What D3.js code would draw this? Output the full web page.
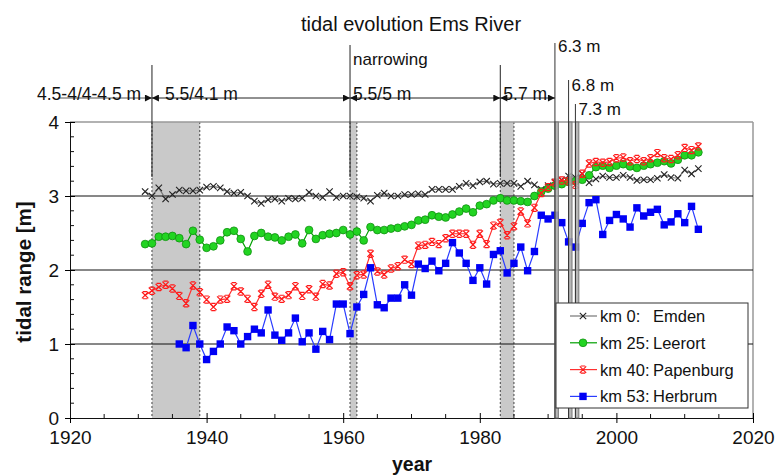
<!DOCTYPE html>
<html>
<head>
<meta charset="utf-8">
<script src="https://cdn.jsdelivr.net/npm/d3@7"></script>
<style>
  body { margin: 0; background: #fff; }
  text { font-family: "Liberation Sans", Arial, Helvetica, sans-serif; fill: #111; }
</style>
</head>
<body>
<div id="chart"></div>
<script>
// data (tidal range in m per year)
const yearsA = d3.range(1931, 2013);   // Emden, Leerort, Papenburg
const yearsB = d3.range(1936, 2013);   // Herbrum

const emden = [3.06,3.00,3.11,2.96,3.02,3.08,3.07,3.07,3.08,3.12,3.13,3.11,3.06,3.04,3.05,3.00,2.93,2.90,2.95,2.96,
  2.93,2.97,2.96,2.97,3.05,3.00,2.98,3.06,2.98,3.00,3.00,2.99,2.97,2.93,3.01,3.04,3.00,3.00,3.02,3.02,
  3.03,3.02,3.09,3.09,3.09,3.09,3.13,3.17,3.14,3.19,3.20,3.16,3.17,3.17,3.17,3.13,3.20,3.15,3.09,3.14,
  3.19,3.22,3.27,3.25,3.30,3.18,3.23,3.27,3.25,3.25,3.28,3.25,3.21,3.22,3.22,3.24,3.29,3.25,3.24,3.35,
  3.30,3.37];
const leerort = [2.35,2.36,2.45,2.45,2.46,2.43,2.35,2.53,2.41,2.30,2.32,2.40,2.51,2.53,2.42,2.25,2.46,2.50,2.45,2.44,
  2.40,2.45,2.48,2.36,2.54,2.42,2.47,2.49,2.50,2.54,2.48,2.52,2.40,2.58,2.54,2.54,2.56,2.57,2.59,2.61,
  2.67,2.68,2.74,2.72,2.71,2.75,2.79,2.83,2.78,2.87,2.89,2.94,2.97,2.94,2.94,2.93,2.92,3.00,3.06,3.10,
  3.14,3.16,3.19,3.20,3.22,3.28,3.39,3.41,3.38,3.41,3.43,3.40,3.38,3.41,3.43,3.45,3.47,3.44,3.49,3.55,
  3.55,3.59];
const papenburg = [1.66,1.72,1.77,1.80,1.75,1.65,1.55,1.79,1.70,1.60,1.50,1.60,1.61,1.78,1.71,1.61,1.50,1.68,1.80,1.64,
  1.61,1.66,1.78,1.65,1.74,1.64,1.81,1.79,1.95,1.97,1.78,1.93,1.94,2.22,1.98,1.94,2.02,2.05,2.14,2.08,
  2.33,2.34,2.38,2.35,2.43,2.49,2.49,2.49,2.34,2.49,2.35,2.60,2.64,2.47,2.59,2.79,2.63,2.84,3.04,3.12,
  3.18,3.21,3.20,3.15,3.30,3.44,3.46,3.45,3.46,3.51,3.52,3.47,3.50,3.47,3.51,3.58,3.51,3.50,3.55,3.65,
  3.62,3.67];
const herbrum = [1.00,0.95,1.25,1.00,0.79,0.90,1.00,1.23,1.18,1.00,1.10,1.20,1.15,1.46,1.12,1.05,1.15,1.35,1.03,1.15,
  0.93,1.17,1.06,1.54,1.54,1.14,1.50,1.67,2.03,1.53,1.49,1.62,1.62,1.80,1.66,2.08,2.02,2.12,1.99,2.09,
  2.37,2.23,2.09,1.86,2.03,1.81,2.21,2.26,1.96,2.09,2.31,1.99,2.25,2.74,2.69,2.74,2.64,2.38,2.31,2.63,
  2.91,2.95,2.48,2.67,2.75,2.69,2.58,2.84,2.73,2.78,2.82,2.61,2.65,2.76,2.64,2.86,2.55];

// shaded construction periods
const periods = [[1932, 1939], [1961, 1962], [1983, 1985]];
// narrow deepening events
const events = [1991, 1993, 1994];
const eventLabels = ["6.3 m", "6.8 m", "7.3 m"];
// channel depth phases (arrows)
const phaseBreaks = [1932, 1961, 1983, 1991];
const phaseLabels = ["5.5/4.1 m", "5.5/5 m", "5.7 m"];

const xTicks = [1920, 1940, 1960, 1980, 2000, 2020];
const yTicks = [0, 1, 2, 3, 4];

const W = 776, H = 476;
const svg = d3.select("#chart").append("svg").attr("width", W).attr("height", H);

const x = d3.scaleLinear().domain([1920, 2020]).range([70, 753]);
const y = d3.scaleLinear().domain([0, 4]).range([418, 122]);

const defs = svg.append("defs");
defs.append("marker").attr("id", "ah").attr("viewBox", "0 0 10 10")
  .attr("refX", 10).attr("refY", 5).attr("markerWidth", 9).attr("markerHeight", 7)
  .attr("markerUnits", "userSpaceOnUse").attr("orient", "auto-start-reverse")
  .append("path").attr("d", "M0,0L10,5L0,10Z").attr("fill", "#111");

// shaded periods
periods.forEach(p => {
  svg.append("rect").attr("x", x(p[0])).attr("y", y(4))
    .attr("width", x(p[1]) - x(p[0])).attr("height", y(0) - y(4)).attr("fill", "#c9c9c9");
  p.forEach(v => svg.append("line").attr("x1", x(v)).attr("x2", x(v)).attr("y1", y(4)).attr("y2", y(0))
    .attr("stroke", "#444").attr("stroke-dasharray", "2,2"));
});

// frame and grid
svg.append("line").attr("x1", x(1920)).attr("x2", x(2020)).attr("y1", y(4)).attr("y2", y(4))
  .attr("stroke", "#999").attr("stroke-width", 1.5);
svg.append("line").attr("x1", x(2020)).attr("x2", x(2020)).attr("y1", y(4)).attr("y2", y(0))
  .attr("stroke", "#999").attr("stroke-width", 1.5);
[1, 2, 3].forEach(v => svg.append("line").attr("x1", x(1920)).attr("x2", x(2020))
  .attr("y1", y(v)).attr("y2", y(v)).attr("stroke", "#111"));

// axes
const xAxis = svg.append("g").attr("transform", `translate(0,${y(0)})`)
  .call(d3.axisBottom(x).tickValues(xTicks).tickFormat(d3.format("d")).tickSize(5).tickPadding(8));
xAxis.selectAll(".tick line").attr("y1", -5);
xAxis.append("g").selectAll("line").data(d3.range(1925, 2020, 5).filter(d => d % 20))
  .join("line").attr("x1", d => x(d)).attr("x2", d => x(d)).attr("y1", 0).attr("y2", -4).attr("stroke", "#111");
const yAxis = svg.append("g").attr("transform", `translate(${x(1920)},0)`)
  .call(d3.axisLeft(y).tickValues(yTicks).tickFormat(d3.format("d")).tickSize(5).tickPadding(6));
yAxis.selectAll(".tick line").attr("x1", 5);
yAxis.append("g").selectAll("line").data(d3.range(0.2, 4, 0.2).filter(d => Math.abs(d - Math.round(d)) > 0.05))
  .join("line").attr("x1", 0).attr("x2", 4).attr("y1", d => y(d)).attr("y2", d => y(d)).attr("stroke", "#111");
[xAxis, yAxis].forEach(g => {
  g.select(".domain").attr("stroke", "#111");
  g.selectAll(".tick text").attr("font-size", 19).attr("font-family", "Liberation Sans, Arial, sans-serif").attr("fill", "#111");
});

// series
const crossPath = "M-3.2,-3.2L3.2,3.2M-3.2,3.2L3.2,-3.2";
const starPath = "M-3.2,-3.2L3.2,3.2M-3.2,3.2L3.2,-3.2M-2.2,-3.6H2.2M-2.2,3.6H2.2";
const series = [
  {name: "Emden", pre: "km 0:", years: yearsA, vals: emden, line: "#777", mark: "cross"},
  {name: "Leerort", pre: "km 25:", years: yearsA, vals: leerort, line: "#00a000", mark: "circle"},
  {name: "Papenburg", pre: "km 40:", years: yearsA, vals: papenburg, line: "#ff3030", mark: "star"},
  {name: "Herbrum", pre: "km 53:", years: yearsB, vals: herbrum, line: "#2a3cff", mark: "square"}
];

function drawMarker(g, s) {
  if (s.mark === "cross") g.append("path").attr("d", crossPath).attr("stroke", "#222").attr("stroke-width", 1.1).attr("fill", "none");
  if (s.mark === "star") g.append("path").attr("d", starPath).attr("stroke", "#ff1a1a").attr("stroke-width", 1.2).attr("fill", "none");
  if (s.mark === "circle") g.append("circle").attr("r", 3.9).attr("fill", "#22d422").attr("stroke", "#109010").attr("stroke-width", 0.8);
  if (s.mark === "square") g.append("rect").attr("x", -3.7).attr("y", -3.7).attr("width", 7.4).attr("height", 7.4).attr("fill", "#0000f5");
}

const line = d3.line().x(d => x(d[0])).y(d => y(d[1]));
series.forEach(s => {
  const pts = s.years.map((yr, i) => [yr, s.vals[i]]);
  svg.append("path").datum(pts).attr("d", line).attr("fill", "none")
    .attr("stroke", s.line).attr("stroke-width", 1.2);
  svg.append("g").selectAll("g").data(pts).join("g")
    .attr("transform", d => `translate(${x(d[0])},${y(d[1])})`)
    .each(function () { drawMarker(d3.select(this), s); });
});

// event bands, drawn over the data
events.forEach(e => {
  svg.append("rect").attr("x", x(e)).attr("y", y(4)).attr("width", x(e + 0.5) - x(e))
    .attr("height", y(0) - y(4)).attr("fill", "#aaa").attr("fill-opacity", 0.85)
    .attr("stroke", "#777").attr("stroke-width", 1);
});

// annotations
const arrowY = 98;
const vTops = [65, 45, 65];
phaseBreaks.slice(0, 3).forEach((b, i) => {
  svg.append("line").attr("x1", x(b)).attr("x2", x(b)).attr("y1", vTops[i]).attr("y2", 177).attr("stroke", "#222");
});
events.forEach((e, i) => {
  const top = [43, 80, 104][i];
  svg.append("line").attr("x1", x(e)).attr("x2", x(e)).attr("y1", top).attr("y2", y(0)).attr("stroke", "#333");
  svg.append("text").attr("x", x(e) + 3).attr("y", top + 9 + (i === 0 ? 0 : 2)).attr("font-size", 17).text(eventLabels[i]);
});
svg.append("line").attr("x1", 58).attr("x2", x(phaseBreaks[0])).attr("y1", arrowY).attr("y2", arrowY)
  .attr("stroke", "#555").attr("marker-end", "url(#ah)");
svg.append("text").attr("x", 37).attr("y", arrowY + 2).attr("font-size", 17.5).text("4.5-4/4-4.5 m");
phaseLabels.forEach((t, i) => {
  svg.append("line").attr("x1", x(phaseBreaks[i])).attr("x2", x(phaseBreaks[i + 1]))
    .attr("y1", arrowY).attr("y2", arrowY).attr("stroke", "#222")
    .attr("marker-start", "url(#ah)").attr("marker-end", "url(#ah)");
  svg.append("text").attr("x", x(phaseBreaks[i]) + (i === 0 ? 13 : 3)).attr("y", arrowY + 2)
    .attr("font-size", 17.5).text(t);
});
svg.append("text").attr("x", 353).attr("y", 65).attr("font-size", 17).text("narrowing");

// legend on top
const lg = svg.append("g");
lg.append("rect").attr("x", 556).attr("y", 303).attr("width", 192).attr("height", 105)
  .attr("fill", "#fff").attr("stroke", "#333").attr("stroke-width", 1);
series.forEach((s, i) => {
  const cy = 316 + i * 26.8;
  lg.append("line").attr("x1", 570).attr("x2", 597).attr("y1", cy).attr("y2", cy).attr("stroke", s.line).attr("stroke-width", 1.2);
  drawMarker(lg.append("g").attr("transform", `translate(583,${cy})`), s);
  lg.append("text").attr("x", 600).attr("y", cy + 6).attr("font-size", 16.5).text(s.pre);
  lg.append("text").attr("x", 653).attr("y", cy + 6).attr("font-size", 16.5).text(s.name);
});

// titles
svg.append("text").attr("x", 411).attr("y", 31).attr("text-anchor", "middle").attr("font-size", 20).text("tidal evolution Ems River");
svg.append("text").attr("x", 412).attr("y", 471).attr("text-anchor", "middle").attr("font-size", 19.5)
  .attr("font-weight", "bold").text("year");
svg.append("text").attr("transform", "translate(31,272) rotate(-90)").attr("text-anchor", "middle")
  .attr("font-size", 20.5).attr("font-weight", "bold").text("tidal range [m]");
</script>
</body>
</html>
